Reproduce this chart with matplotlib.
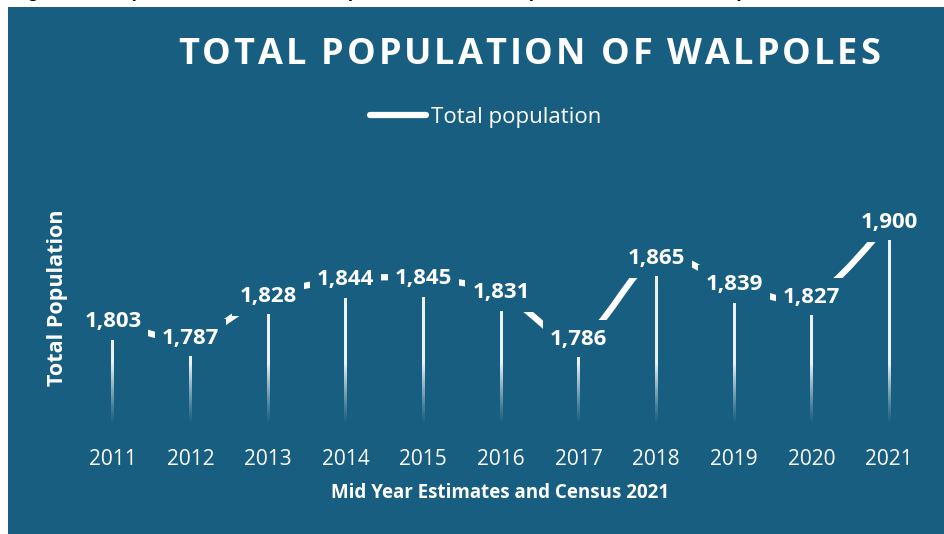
import numpy as np
import matplotlib
matplotlib.use('Agg')
import matplotlib.pyplot as plt
import matplotlib.transforms as mtransforms
from matplotlib.path import Path
from matplotlib.patches import PathPatch, Rectangle
from matplotlib.lines import Line2D
from matplotlib.font_manager import FontProperties

# ---------------- data ----------------
years = ['2011', '2012', '2013', '2014', '2015', '2016', '2017', '2018', '2019', '2020', '2021']
population = [1803, 1787, 1828, 1844, 1845, 1831, 1786, 1865, 1839, 1827, 1900]
title = 'TOTAL POPULATION OF WALPOLES'
series_name = 'Total population'
x_label = 'Mid Year Estimates and Census 2021'
y_label = 'Total Population'
caption = 'Figure 3: Walpoles Mid Year Total Population Estimates (2011, 2016, 2019, 2021)'

# ---------------- style ----------------
BG = '#185e80'
W, H, DPI = 944, 534, 100
FONT = 'Open Sans'
Y_MIN, Y_MAX = 1720, 1940

fig = plt.figure(figsize=(W / DPI, H / DPI), dpi=DPI, facecolor='white')
fig.add_artist(Rectangle((8 / W, 0), 1 - 8 / W, (H - 7) / H, transform=fig.transFigure,
                         facecolor=BG, edgecolor='none', zorder=0))

# caption (cut off at the top of the picture, only descenders visible)
fig.text(10 / W, (H + 3) / H, caption, fontsize=14, fontweight='bold', color='black',
         family='Liberation Sans', va='baseline', ha='left')

ax = fig.add_axes([74 / W, (H - 425) / H, (928 - 74) / W, (425 - 199) / H])
ax.set_facecolor('none')
for s in ax.spines.values():
    s.set_visible(False)

x = np.arange(len(years))
vals = np.array(population, dtype=float)

# drop lines with gradient fill
bar_w = 0.036
bars = ax.bar(x, vals - Y_MIN, bottom=Y_MIN, width=bar_w, color='none', edgecolor='none', zorder=4)
grad_y = np.linspace(Y_MIN, Y_MAX, 256)
alpha = np.clip((grad_y - Y_MIN) / 60.0, 0, 1) ** 1.2 * 0.92
img = np.ones((256, 2, 4))
img[:, :, 3] = alpha[:, None]
for xi, b in zip(x, bars):
    im = ax.imshow(img, extent=(xi - bar_w, xi + bar_w, Y_MIN, Y_MAX), origin='lower',
                   aspect='auto', interpolation='bilinear', zorder=4)
    im.set_clip_path(b)

ax.set_xlim(-0.5, len(years) - 0.5)
ax.set_ylim(Y_MIN, Y_MAX)
ax.set_xticks(x, years)
ax.set_yticks([])
ax.tick_params(axis='x', length=0, pad=17, labelcolor='white', labelsize=15)
for lbl in ax.get_xticklabels():
    lbl.set_family(FONT)

# smoothed line, drawn slightly above the drop lines
off = mtransforms.ScaledTranslation(0, 18 / DPI, fig.dpi_scale_trans)
line_tr = ax.transData + off
pts = np.column_stack([x, vals]).astype(float)
ext = np.vstack([pts[0], pts, pts[-1]])
verts = [pts[0]]
codes = [Path.MOVETO]
for i in range(len(pts) - 1):
    p0, p1, p2, p3 = ext[i], ext[i + 1], ext[i + 2], ext[i + 3]
    verts += [p1 + (p2 - p0) / 6.0, p2 - (p3 - p1) / 6.0, p2]
    codes += [Path.CURVE4] * 3
ax.add_patch(PathPatch(Path(verts, codes), facecolor='none', edgecolor='white', lw=4.5,
                       transform=line_tr, zorder=2, clip_on=False))

# data labels
texts = []
for xi, v in zip(x, population):
    t = ax.text(xi, v, f'{v:,}', transform=line_tr, ha='center', va='center', fontsize=16,
                fontweight='bold', color='white', family=FONT, zorder=6, clip_on=False)
    texts.append(t)

fig.canvas.draw()
renderer = fig.canvas.get_renderer()
for xi, v, t in zip(x, population, texts):
    bb = t.get_window_extent(renderer)
    cx, cy = line_tr.transform((xi, v))
    r = Rectangle((bb.x0 - 7, cy - 19.5), bb.width + 14, 39, transform=mtransforms.IdentityTransform(),
                  facecolor=BG, edgecolor='none', zorder=3, clip_on=False)
    ax.add_patch(r)

# axis titles
fig.text(500 / W, (H - 493) / H, x_label, fontsize=13.5, fontweight='bold', color='white',
         family=FONT, ha='center', va='center')
fig.text(57 / W, (H - 298) / H, y_label, fontsize=15.5, fontweight='bold', color='white',
         family=FONT, ha='center', va='center', rotation=90)

# legend
fig.legend(handles=[Line2D([], [], color='white', lw=4.5, solid_capstyle='round')],
           labels=[series_name], loc='center', bbox_to_anchor=(486 / W, (H - 117) / H),
           frameon=False, handlelength=2.5, handletextpad=0.25, labelcolor='white',
           prop=FontProperties(family=FONT, size=16))

# letter-spaced title
tprop = FontProperties(family=FONT, weight='bold', size=26)
def adv(c):
    w1, _, _ = renderer.get_text_width_height_descent('H' + c + 'H', tprop, ismath=False)
    w0, _, _ = renderer.get_text_width_height_descent('HH', tprop, ismath=False)
    return w1 - w0
advs = [adv(c) for c in title]
x_start, x_end = 178, 880
last_w, _, _ = renderer.get_text_width_height_descent(title[-1], tprop, ismath=False)
natural = sum(advs[:-1]) + last_w
spacing = (x_end - x_start - natural) / (len(title) - 1)
xp = x_start
for c, a in zip(title, advs):
    if c != ' ':
        fig.text(xp / W, (H - 64) / H, c, fontproperties=tprop, color='white',
                 ha='left', va='baseline')
    xp += a + spacing

fig.savefig('out.png', dpi=DPI, facecolor='white')
